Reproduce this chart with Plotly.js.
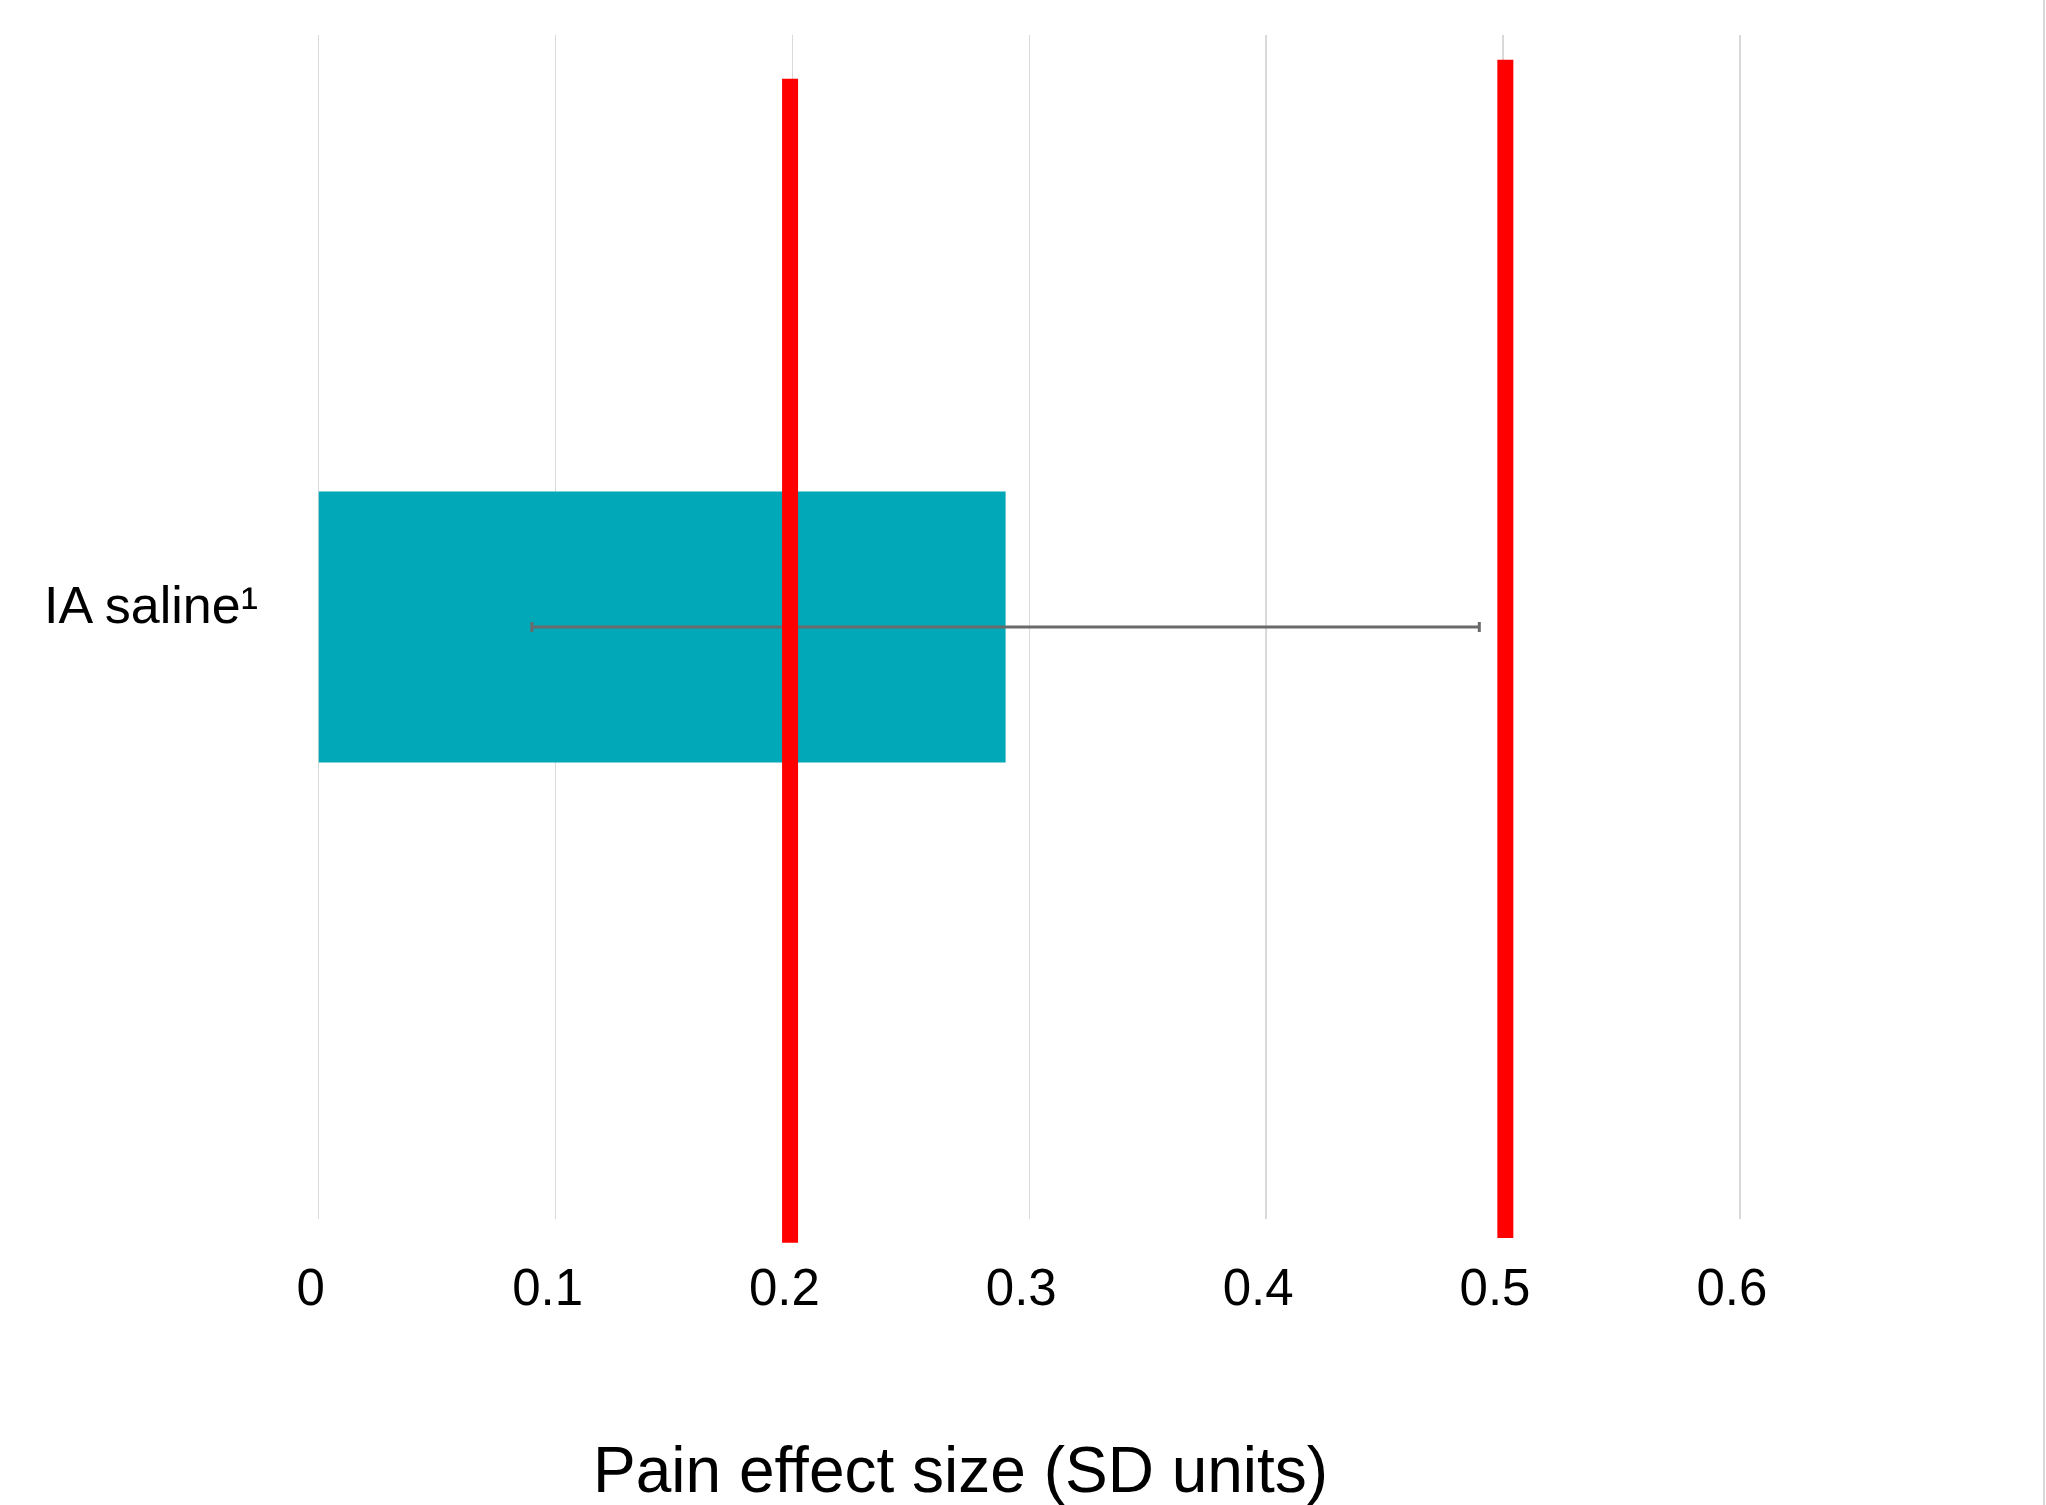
<!DOCTYPE html>
<html>
<head>
<meta charset="utf-8">
<script src="https://cdn.plot.ly/plotly-3.0.1.min.js"></script>
<style>html,body{margin:0;padding:0;background:#fff;}#chart{width:2046px;height:1505px;}</style>
</head>
<body>
<div id="chart"></div>
<script>
// Data
const categories = ["IA saline¹"];
const effectSize = [0.29];
const ciLower = [0.09];
const ciUpper = [0.49];
const thresholds = [0.199, 0.501];
const xTickVals = [0, 0.1, 0.2, 0.3, 0.4, 0.5, 0.6];
const xTickText = ["0", "0.1", "0.2", "0.3", "0.4", "0.5", "0.6"];
const xTitle = "Pain effect size (SD units)";

const errPlus = effectSize.map((v, i) => ciUpper[i] - v);
const errMinus = effectSize.map((v, i) => v - ciLower[i]);

const trace = {
  type: "bar",
  orientation: "h",
  x: effectSize,
  y: categories,
  width: 0.229,
  marker: {color: "#00A8B8"},
  error_x: {
    type: "data",
    symmetric: false,
    array: errPlus,
    arrayminus: errMinus,
    color: "#6A6A6A",
    thickness: 3,
    width: 5
  },
  hoverinfo: "none"
};

// red threshold lines (vertical extents in paper units)
const lineExtents = [[-0.020, 0.963], [-0.016, 0.979]];
const shapes = thresholds.map((t, i) => ({
  type: "line", xref: "x", yref: "paper",
  x0: t, x1: t, y0: lineExtents[i][0], y1: lineExtents[i][1],
  line: {color: "#FF0000", width: 16},
  layer: "above"
}));
shapes.push({
  type: "line", xref: "paper", yref: "paper",
  x0: (2044 - 314) / 1639, x1: (2044 - 314) / 1639, y0: -0.25, y1: 1.04,
  line: {color: "#D9D9D9", width: 2}, layer: "below"
});

const layout = {
  width: 2046,
  height: 1505,
  margin: {l: 314, r: 93, t: 35, b: 286},
  paper_bgcolor: "#ffffff",
  plot_bgcolor: "#ffffff",
  showlegend: false,
  font: {family: "Liberation Sans, Arial, sans-serif", color: "#000000"},
  xaxis: {
    range: [-0.002, 0.69],
    tickvals: xTickVals,
    ticktext: xTickText,
    showgrid: true,
    gridcolor: "#D9D9D9",
    gridwidth: 1.5,
    zeroline: false,
    showline: false,
    ticks: "",
    tickfont: {size: 51, color: "#000000"},
    ticklabelstandoff: 34,
    ticklabelshift: -8,
    fixedrange: true
  },
  yaxis: {
    type: "category",
    range: [-0.5, 0.5],
    showgrid: false,
    zeroline: false,
    showline: false,
    ticks: "",
    tickfont: {size: 52, color: "#000000"},
    ticklabelstandoff: 55,
    ticklabelshift: -22,
    fixedrange: true
  },
  shapes: shapes,
  annotations: [{
    text: xTitle,
    xref: "paper", yref: "paper",
    x: (960 - 314) / 1639, y: -0.212,
    xanchor: "center", yanchor: "middle",
    showarrow: false,
    font: {size: 64, color: "#000000"}
  }]
};

Plotly.newPlot("chart", [trace], layout, {displayModeBar: false, staticPlot: true});
</script>
</body>
</html>
